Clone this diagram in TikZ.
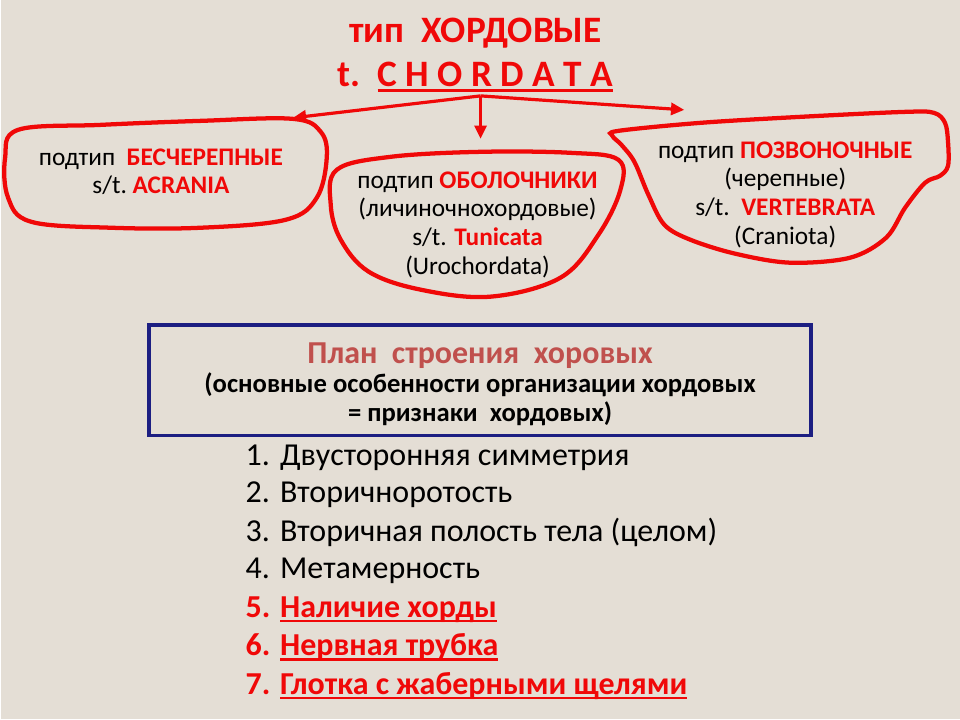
\documentclass[tikz,border=0pt]{standalone}
\usepackage{fontspec}
\setmainfont{Carlito}
\usetikzlibrary{arrows.meta}
\definecolor{fon}{RGB}{228,222,213}
\definecolor{krasn}{RGB}{240,8,8}
\definecolor{planred}{RGB}{192,80,77}
\definecolor{ramka}{RGB}{28,30,130}
\newcommand{\nomer}[1]{\makebox[26pt][l]{#1}}
\newcommand{\podcherk}[1]{\setbox0\hbox{#1}\rlap{\rule[-3.6pt]{\wd0}{1.6pt}}\box0}
\begin{document}
\begin{tikzpicture}[x=0.75pt, y=-0.75pt,
	blob/.style={draw=krasn, line width=3.2pt},
	strelka/.style={draw=krasn, line width=2.4pt, -{Triangle[length=10pt, width=9pt]}},
	podtip/.style={align=center, font=\fontsize{19}{21.5}\selectfont},
	punkt/.style={anchor=west, font=\fontsize{24}{28}\selectfont},
	krpunkt/.style={punkt, text=krasn, font=\fontsize{24}{28}\selectfont\bfseries}]
		\fill[fon] (0, 0) rectangle (960, 720);
		% title
		\node[text=krasn, font=\fontsize{28}{34}\selectfont\bfseries] (tip) at (475, 33) {тип\ \ ХОРДОВЫЕ};
		\node[text=krasn, font=\fontsize{28}{34}\selectfont\bfseries] (latin) at (475, 77) {t.\ \ \podcherk{C H O R D A T A}};
		\coordinate (vilka) at (480, 96);
		\coordinate (akr) at (292, 118);
		\coordinate (tun) at (480, 139);
		\coordinate (vert) at (684, 110);
		\draw[strelka] (vilka) -- (akr);
		\draw[strelka] (vilka) -- (tun);
		\draw[strelka] (vilka) -- (vert);
		% subtypes
		\draw[blob] plot[smooth cycle, tension=0.6] coordinates {(17, 130) (100, 125) (200, 121) (292, 119) (320, 132) (326, 158) (316, 198) (285, 220) (200, 228) (110, 228) (30, 222) (7, 198) (4, 158)};
		\node[podtip] (acrania) at (160, 172) {подтип\ \ \textcolor{krasn}{\bfseries БЕСЧЕРЕПНЫЕ}\\s/t.\ \textcolor{krasn}{\bfseries ACRANIA}};
		\draw[blob] plot[smooth cycle, tension=0.6] coordinates {(336, 170) (390, 157) (480, 152) (570, 153) (618, 160) (620, 190) (598, 235) (560, 278) (490, 297) (420, 290) (368, 272) (340, 240) (330, 205)};
		\node[podtip] (tunicata) at (477, 225) {подтип \textcolor{krasn}{\bfseries ОБОЛОЧНИКИ}\\(личиночнохордовые)\\s/t. \textcolor{krasn}{\bfseries Tunicata}\\(Urochordata)};
		\draw[blob] plot[smooth cycle, tension=0.55] coordinates {(618, 131) (700, 123) (800, 117) (905, 112) (934, 113) (945, 123) (948, 142) (948, 166) (940, 176) (925, 183) (905, 208) (886, 238) (850, 258) (790, 263) (735, 254) (690, 240) (664, 225) (648, 195) (634, 162) (621, 145) (612, 136)};
		\node[podtip] (vertebrata) at (785, 195) {подтип \textcolor{krasn}{\bfseries ПОЗВОНОЧНЫЕ}\\(черепные)\\s/t.\ \ \textcolor{krasn}{\bfseries VERTEBRATA}\\(Craniota)};
		% plan
		\node[draw=ramka, line width=2.6pt, minimum width=497pt, minimum height=83pt, align=center,
			font=\fontsize{20}{22}\selectfont\bfseries] (plan) at (479.5, 380.5)
			{{\fontsize{24}{24}\selectfont\rule{0pt}{22pt}\textcolor{planred}{План\ \ строения\ \ хоровых}}\\[-0.75pt]
			(основные особенности организации хордовых\\= признаки\ \ хордовых)};
		\node[punkt] (p1) at (240, 458) {\nomer{1.}Двусторонняя симметрия};
		\node[punkt] (p2) at (240, 495) {\nomer{2.}Вторичноротость};
		\node[punkt] (p3) at (240, 533) {\nomer{3.}Вторичная полость тела (целом)};
		\node[punkt] (p4) at (240, 571) {\nomer{4.}Метамерность};
		\node[krpunkt] (p5) at (240, 610) {\nomer{5.}\podcherk{Наличие хорды}};
		\node[krpunkt] (p6) at (240, 648) {\nomer{6.}\podcherk{Нервная трубка}};
		\node[krpunkt] (p7) at (240, 687) {\nomer{7.}\podcherk{Глотка с жаберными щелями}};
	\end{tikzpicture}
\end{document}
